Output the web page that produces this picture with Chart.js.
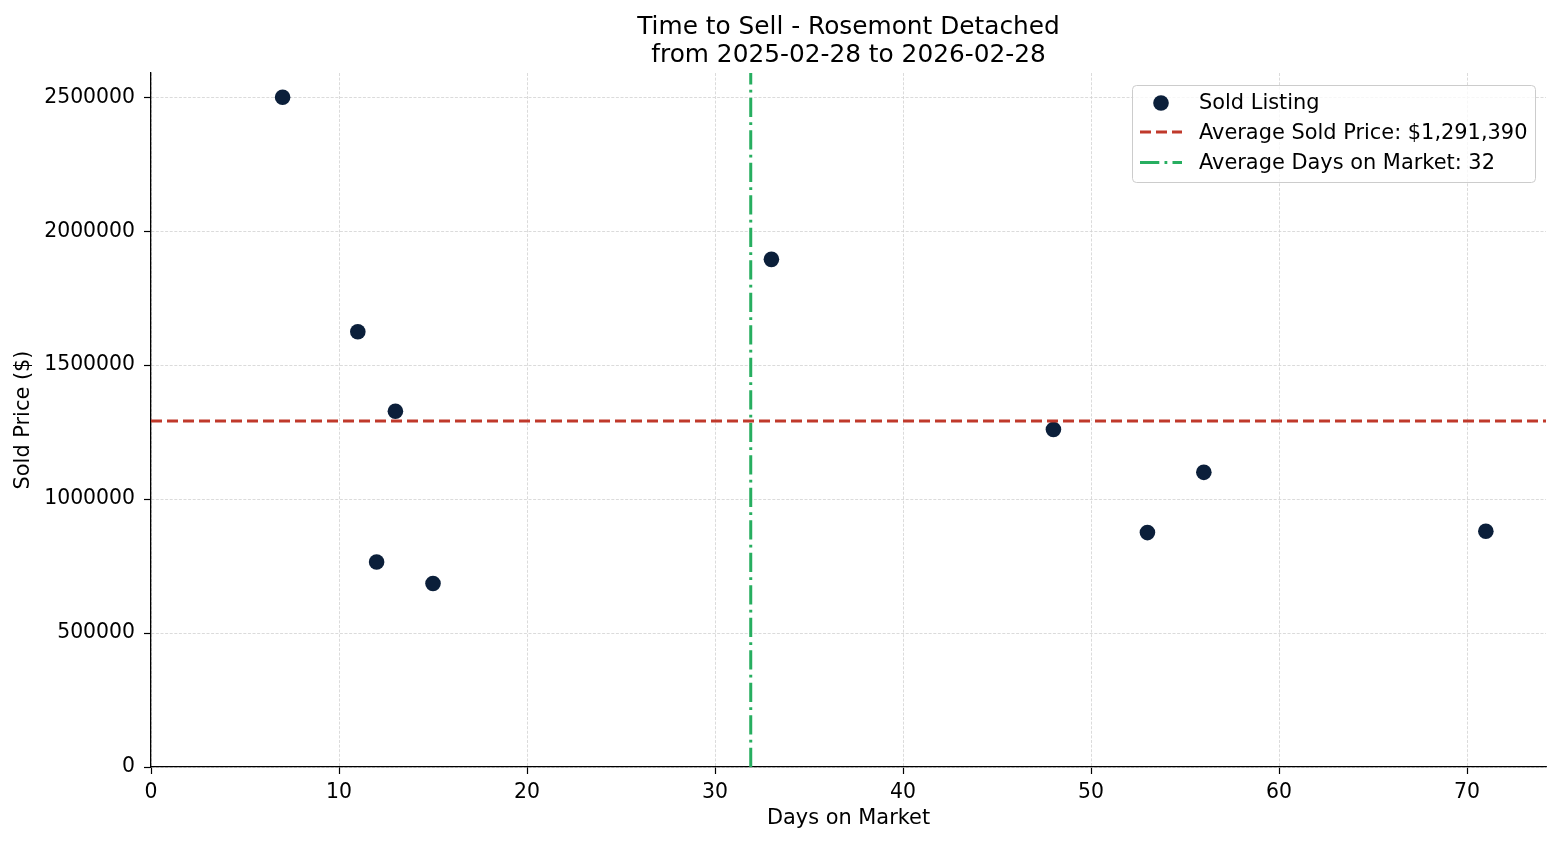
<!DOCTYPE html>
<html lang="en">
<head>
  <meta charset="UTF-8" />
  <title>Time to Sell - Rosemont Detached</title>
  <script src="https://cdn.jsdelivr.net/npm/chart.js"></script>
  <style>
    html, body {
      margin: 0; padding: 0;
      background: #fff;
    }
    #wrap {
      width: 1560px;
      height: 845px;
      position: relative;
    }
  </style>
</head>
<body>
  <div id="wrap"><canvas id="sellChart" width="1560" height="845"></canvas></div>

<script>
  // data
  const days = [7, 11, 12, 13, 15, 33, 48, 53, 56, 71];
  const soldPrice = [2500000, 1625000, 765000, 1328000, 685000, 1895000, 1260000, 875000, 1100000, 880000];
  const avgPrice = 1291390;
  const avgDays = 31.9;

  const xTicks = [0, 10, 20, 30, 40, 50, 60, 70];
  const yTicks = [0, 500000, 1000000, 1500000, 2000000, 2500000];
  const X_MAX = 74.2;
  const Y_MAX = 2590750;

  const titleLines = ['Time to Sell - Rosemont Detached', 'from 2025-02-28 to 2026-02-28'];

  const FONT = 'DejaVu Sans';
  const navy = '#0b1f3a';
  const red = '#c0392b';
  const green = '#27ae60';
  const redDash = [11, 5];
  const greenDash = [19.3, 5.2, 2.8, 5.2];

  const legendItems = [
    { kind: 'dot', color: navy, text: 'Sold Listing' },
    { kind: 'line', color: red, dash: redDash, text: 'Average Sold Price: $' + avgPrice.toLocaleString('en-US') },
    { kind: 'line', color: green, dash: greenDash, text: 'Average Days on Market: ' + Math.round(avgDays) }
  ];

  // matplotlib-ish legend box, drawn on top of everything
  const legendPlugin = {
    id: 'mplLegend',
    afterDraw(chart) {
      const ctx = chart.ctx;
      const box = { x: 1132, y: 85, w: 403, h: 97, r: 4 };
      ctx.save();
      ctx.beginPath();
      ctx.roundRect(box.x + 0.5, box.y + 0.5, box.w, box.h, box.r);
      ctx.fillStyle = 'rgba(255,255,255,0.8)';
      ctx.fill();
      ctx.strokeStyle = '#cccccc';
      ctx.lineWidth = 1;
      ctx.stroke();

      ctx.font = '20.9px "' + FONT + '"';
      ctx.textBaseline = 'middle';
      ctx.textAlign = 'left';
      const rows = [102.5, 132, 162.5];
      legendItems.forEach((it, i) => {
        const y = rows[i];
        if (it.kind === 'dot') {
          ctx.beginPath();
          ctx.arc(1161, y + 0.5, 7.8, 0, Math.PI * 2);
          ctx.fillStyle = it.color;
          ctx.fill();
        } else {
          ctx.beginPath();
          ctx.setLineDash(it.dash);
          ctx.lineWidth = 3;
          ctx.strokeStyle = it.color;
          ctx.moveTo(1140, y);
          ctx.lineTo(1182, y);
          ctx.stroke();
          ctx.setLineDash([]);
        }
        ctx.fillStyle = '#000';
        ctx.fillText(it.text, 1199, y + 1.5);
      });
      ctx.restore();
    }
  };

  const gridCommon = {
    color: '#d2d2d2',
    lineWidth: 0.8,
    tickColor: '#000',
    tickLength: 7,
    tickWidth: 1.2
  };
  const borderCommon = { display: true, color: '#000', width: 1.3, dash: [3, 1.6] };
  const tickFont = { family: FONT, size: 20.4 };
  const labelFont = { family: FONT, size: 20.9 };

  new Chart(document.getElementById('sellChart'), {
    type: 'scatter',
    data: {
      datasets: [
        {
          label: 'Average Sold Price',
          type: 'line',
          data: [{ x: 0, y: avgPrice }, { x: X_MAX, y: avgPrice }],
          borderColor: red,
          borderWidth: 3,
          borderDash: redDash,
          pointRadius: 0,
          fill: false,
          order: 0
        },
        {
          label: 'Average Days on Market',
          type: 'line',
          data: [{ x: avgDays, y: 0 }, { x: avgDays, y: Y_MAX }],
          borderColor: green,
          borderWidth: 3,
          borderDash: greenDash,
          pointRadius: 0,
          fill: false,
          order: 1
        },
        {
          label: 'Sold Listing',
          data: days.map((d, i) => ({ x: d, y: soldPrice[i] })),
          backgroundColor: navy,
          borderWidth: 0,
          pointRadius: 7.8,
          pointHoverRadius: 7.8,
          order: 2
        }
      ]
    },
    options: {
      responsive: false,
      devicePixelRatio: 1,
      animation: false,
      layout: { padding: { left: 0, right: 14, top: 0, bottom: 0 } },
      plugins: {
        legend: { display: false },
        tooltip: { enabled: false },
        title: {
          display: true,
          text: titleLines,
          fullSize: false,
          color: '#000',
          font: { family: FONT, size: 24.8, weight: 'normal', lineHeight: 28 / 24.8 },
          padding: { top: 14, bottom: 3 }
        }
      },
      scales: {
        x: {
          type: 'linear',
          position: 'bottom',
          min: 0,
          max: X_MAX,
          afterFit: s => { s.height = 78; },
          afterBuildTicks: s => { s.ticks = xTicks.map(v => ({ value: v })); },
          grid: gridCommon,
          border: borderCommon,
          ticks: {
            color: '#000',
            font: tickFont,
            padding: 6,
            maxRotation: 0,
            callback: v => String(v)
          },
          title: {
            display: true,
            text: 'Days on Market',
            color: '#000',
            font: labelFont,
            padding: { top: 0, bottom: 14 }
          }
        },
        y: {
          type: 'linear',
          position: 'left',
          min: 0,
          max: Y_MAX,
          afterFit: s => { s.width = 151; },
          afterBuildTicks: s => { s.ticks = yTicks.map(v => ({ value: v })); },
          grid: gridCommon,
          border: borderCommon,
          ticks: {
            color: '#000',
            font: tickFont,
            padding: 9,
            callback: v => String(v)
          },
          title: {
            display: true,
            text: 'Sold Price ($)',
            color: '#000',
            font: labelFont,
            padding: { top: 11, bottom: 0 }
          }
        }
      }
    },
    plugins: [legendPlugin]
  });
</script>
</body>
</html>
